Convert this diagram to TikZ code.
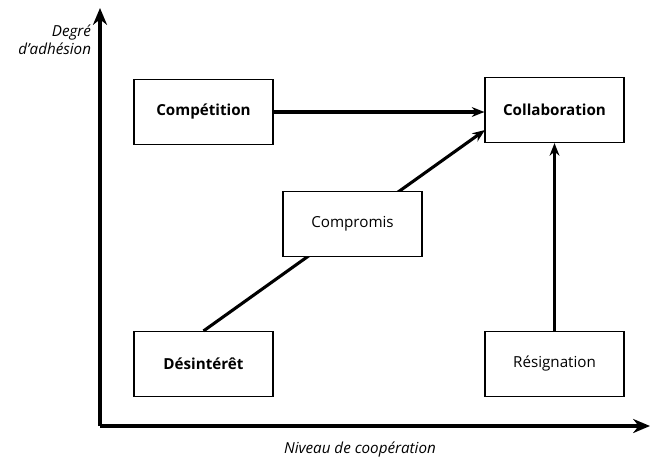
\documentclass[tikz,border=0pt]{standalone}
\usepackage{fontspec}
\setmainfont{Open Sans}
\usetikzlibrary{arrows.meta,positioning}

\begin{document}
\begin{tikzpicture}[x=0.025cm, y=-0.025cm, font=\fontsize{10.8}{13}\selectfont, box/.style={rectangle, draw, fill=white, line width=0.8pt, minimum width=139*0.025cm, minimum height=65*0.025cm, inner sep=0pt}, axis/.style={line width=3pt, -{Stealth[length=12pt, width=10pt]}}, link/.style={line width=2.2pt, -{Stealth[length=9pt, width=7pt]}}]
  \useasboundingbox (0,0) rectangle (651,461);
  % axes
  \coordinate (origin) at (100,426);
  \coordinate (ytop) at (100,8);
  \coordinate (xend) at (650,426);
  \draw[axis] (origin) -- (ytop);
  \draw[axis] (origin) -- (xend);
  \node[align=right, font=\fontsize{10.8}{13}\selectfont\itshape, anchor=east] (ylab) at (96,40) {Degré\\d'adhésion};
  \node[font=\fontsize{10.8}{13}\selectfont\itshape] (xlab) at (360,449) {Niveau de coopération};
  % boxes
  \node[box, font=\fontsize{10.8}{13}\selectfont\bfseries] (comp) at (203.5,112) {Compétition};
  \node[box, font=\fontsize{10.8}{13}\selectfont\bfseries] (coll) at (554.5,110) {Collaboration};
  \node[box, font=\fontsize{10.8}{13}\selectfont\bfseries] (desi) at (203.5,364) {Désintérêt};
  \node[box] (resi) at (554.5,364) {Résignation};
  \coordinate (collin) at (485,130);
  \draw[link] (comp) -- (comp -| coll.west);
  \draw[link] (desi.north) -- (collin);
  \draw[link] (resi.north) -- (coll.south);
  \node[box] (compro) at (352.5,224) {Compromis};
\end{tikzpicture}
\end{document}
